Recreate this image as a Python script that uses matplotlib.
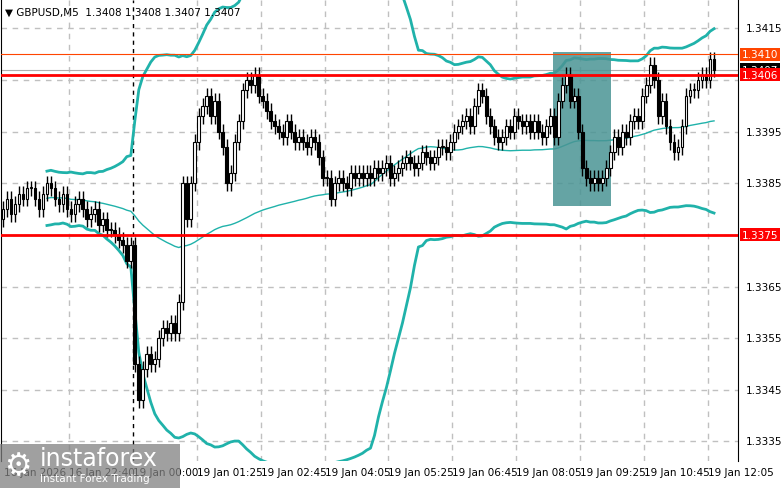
import matplotlib
matplotlib.use("Agg")
import matplotlib.pyplot as plt
import matplotlib.transforms as mtransforms
from matplotlib.patches import Rectangle
import numpy as np
import pandas as pd

closes = [
1.3380,1.3382,1.3379,1.3381,1.3383,1.3382,1.3384,1.3384,1.3382,1.3380,
1.3383,1.3385,1.3384,1.3382,1.3381,1.3383,1.3380,1.3379,1.3381,1.3382,
1.3380,1.3378,1.3379,1.3380,1.3377,1.3378,1.3376,1.3376,1.3375,1.3374,
1.3373,1.3370,1.3373,1.3350,1.3343,1.3349,1.3352,1.3350,1.3351,1.3355,
1.3357,1.3356,1.3358,1.3356,1.3362,1.3385,1.3378,1.3385,1.3393,1.3398,
1.3400,1.3402,1.3398,1.3401,1.3395,1.3392,1.3385,1.3387,1.3393,1.3397,
1.3403,1.3405,1.3404,1.3406,1.3402,1.3401,1.3399,1.3397,1.3396,1.3395,
1.3394,1.3397,1.3395,1.3393,1.3394,1.3393,1.3392,1.3394,1.3393,1.3390,
1.3386,1.3386,1.3382,1.3385,1.3386,1.3385,1.3384,1.3387,1.3386,1.3387,
1.3386,1.3387,1.3386,1.3388,1.3387,1.3388,1.3389,1.3386,1.3387,1.3388,
1.3389,1.3390,1.3389,1.3388,1.3389,1.3391,1.3390,1.3389,1.3390,1.3392,
1.3392,1.3391,1.3393,1.3395,1.3396,1.3397,1.3398,1.3396,1.3400,1.3403,
1.3402,1.3398,1.3396,1.3394,1.3393,1.3394,1.3396,1.3395,1.3398,1.3397,
1.3396,1.3397,1.3395,1.3397,1.3395,1.3394,1.3396,1.3398,1.3394,1.3401,
1.3404,1.3406,1.3401,1.3402,1.3395,1.3388,1.3386,1.3385,1.3386,1.3385,
1.3386,1.3388,1.3391,1.3394,1.3392,1.3395,1.3394,1.3397,1.3398,1.3397,
1.3402,1.3404,1.3408,1.3405,1.3398,1.3401,1.3396,1.3393,1.3391,1.3392,
1.3396,1.3402,1.3403,1.3403,1.3405,1.3406,1.3405,1.3409,1.3407]
first_open = 1.3378
wick = 0.00015

time_labels = ["16 Jan 2026", "16 Jan 22:40", "19 Jan 00:00", "19 Jan 01:25", "19 Jan 02:45",
               "19 Jan 04:05", "19 Jan 05:25", "19 Jan 06:45", "19 Jan 08:05", "19 Jan 09:25",
               "19 Jan 10:45", "19 Jan 12:05"]
price_ticks = [1.3335, 1.3345, 1.3355, 1.3365, 1.3385, 1.3395, 1.3415]
level_lines = [1.3406, 1.3375]
ask_line = 1.3410
last_price = 1.3407
box_bars = (137.8, 152.3)
box_prices = (1.33805, 1.34104)
bb_period = 60
bb_dev = 3.0

c = np.array(closes)
o = np.concatenate([[first_open], c[:-1]])
h = np.maximum(o, c) + wick
l = np.minimum(o, c) - wick
n = len(c)

s = pd.Series(c)
mid = s.rolling(bb_period, min_periods=12).mean()
sd = s.rolling(bb_period, min_periods=12).std(ddof=0)
up = mid + bb_dev * sd
lo = mid - bb_dev * sd

W, H = 781, 489
fig = plt.figure(figsize=(W/100, H/100), dpi=100)
ax = fig.add_axes([1/W, (H-462)/H, 737/W, 461/H])
ax.set_xlim(-0.5, 184)
ax.set_ylim(1.33312, 1.34205)

teal = "#20b2aa"
x = np.arange(n)
ax.plot(x, up, color=teal, lw=2, zorder=2)
ax.plot(x, lo, color=teal, lw=2, zorder=2)
ax.plot(x, mid, color=teal, lw=1, zorder=2)

ax.add_patch(Rectangle((box_bars[0], box_prices[0]), box_bars[1]-box_bars[0],
                       box_prices[1]-box_prices[0], color="#4a9494", alpha=0.85, zorder=3, lw=0))

for i in range(n):
    ax.vlines(i, l[i], h[i], color="black", lw=1, zorder=4)
    bull = c[i] >= o[i]
    bot = min(o[i], c[i]); ht = max(abs(c[i]-o[i]), 0.00002)
    ax.add_patch(Rectangle((i-0.35, bot), 0.7, ht, facecolor="white" if bull else "black",
                           edgecolor="black", lw=0.8, zorder=5))

for lv in level_lines:
    ax.axhline(lv, color="red", lw=2, zorder=6)
ax.axhline(ask_line, color="#ff4500", lw=0.8, zorder=6)
ax.axhline(last_price, color="#b0b0b0", lw=0.8, zorder=1)

gx = [16*k + 16.5 for k in range(11)]
for k, g in enumerate(gx):
    if k == 1:
        ax.axvline(g, color="black", lw=1, ls=(0, (3, 3)), zorder=1)
    else:
        ax.axvline(g, color="#c0c0c0", lw=1, ls=(0, (4, 4)), zorder=0)
for p in np.arange(1.3335, 1.3420, 0.001):
    ax.axhline(p, color="#c0c0c0", lw=1, ls=(0, (4, 4)), zorder=0)

ax.set_xticks([]); ax.set_yticks([])
for sp in ["top", "bottom"]:
    ax.spines[sp].set_visible(False)

tr = mtransforms.blended_transform_factory(ax.transAxes, ax.transData)
for p in price_ticks:
    ax.text(1.01, p, f"{p:.4f}", transform=tr, va="center", ha="left", fontsize=7.5, clip_on=False)

def tag(p, txt, bg, fg):
    ax.text(1.005, p, txt, transform=tr, va="center", ha="left", fontsize=7.5, color=fg,
            clip_on=False, zorder=10,
            bbox=dict(boxstyle="square,pad=0.15", fc=bg, ec="none"))
tag(ask_line, "1.3410", "#ff4500", "white")
tag(last_price, "1.3407", "black", "white")
tag(level_lines[0], "1.3406", "red", "white")
tag(level_lines[1], "1.3375", "red", "white")

trx = mtransforms.blended_transform_factory(ax.transData, ax.transAxes)
xs = [0.2] + gx
for xi, t in zip(xs, time_labels):
    ax.text(xi, -0.013, t, transform=trx, ha="left", va="top", fontsize=7.5, clip_on=False)

ax.text(0.006, 0.985, "\u25BC GBPUSD,M5  1.3408 1.3408 1.3407 1.3407", transform=ax.transAxes,
        ha="left", va="top", fontsize=7.5, zorder=10)

fig.patches.append(Rectangle((0, 0), 180/W, 44/H, transform=fig.transFigure,
                             fc="#808080", alpha=0.75, ec="none", zorder=20))
fig.text(40/W, 30/H, "instaforex", color="white", fontsize=17, va="center", ha="left", zorder=21)
fig.text(40/W, 10/H, "Instant Forex Trading", color="white", fontsize=7.5, va="center", ha="left", zorder=21)
fig.text(18/W, 22/H, "\u2699", color="white", fontsize=22, va="center", ha="center", zorder=21)

fig.savefig("out.png", dpi=100)
